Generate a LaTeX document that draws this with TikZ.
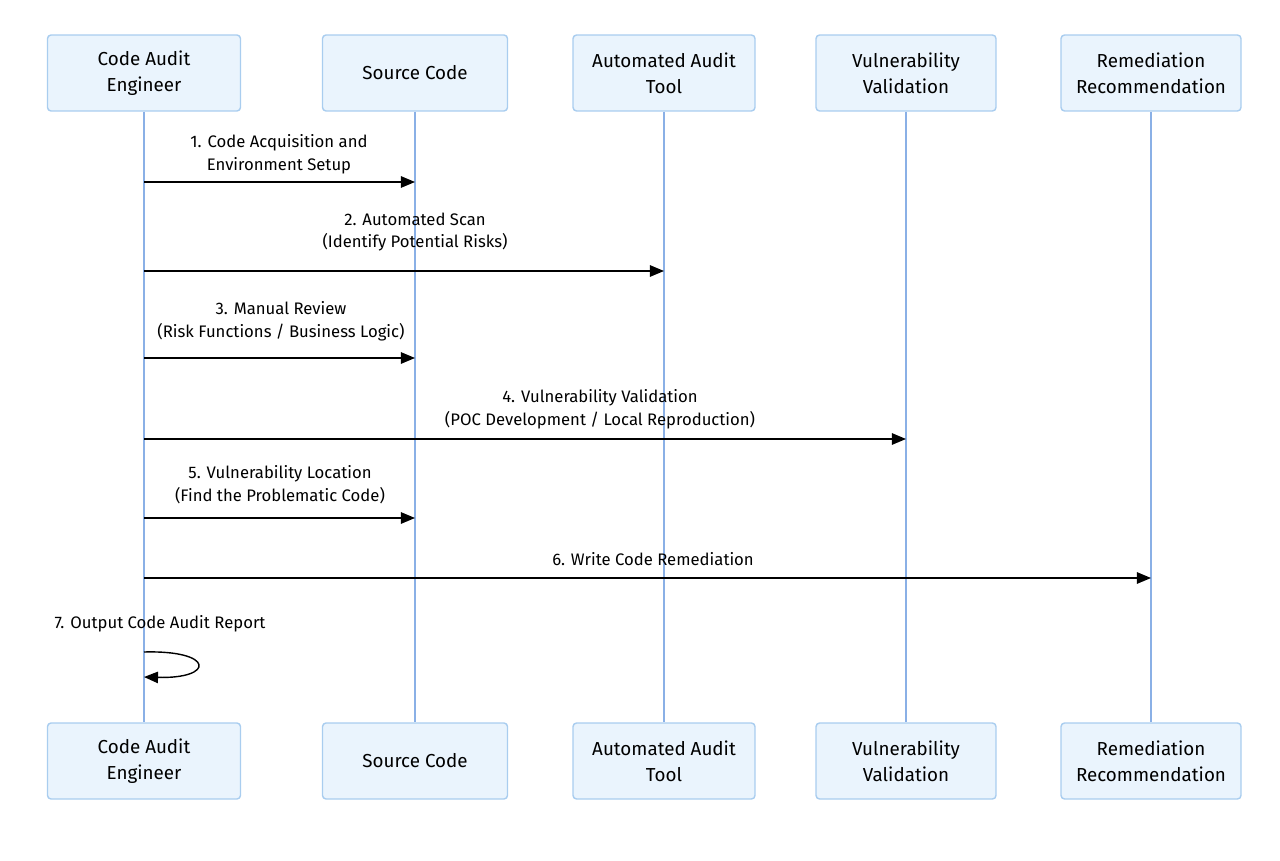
\documentclass[tikz,border=0pt]{standalone}
\usepackage{fontspec}
\setmainfont{Fira Sans}
\usetikzlibrary{positioning,arrows.meta}

\definecolor{boxfill}{HTML}{EAF4FD}
\definecolor{boxline}{HTML}{A9CDEF}
\definecolor{lifeline}{HTML}{8AB0E6}

\tikzset{
  actor/.style={draw=boxline, fill=boxfill, line width=0.8pt, rounded corners=2pt,
    minimum height=1.52cm, align=center, font=\fontsize{10.7}{14.6}\selectfont},
  life/.style={draw=lifeline, line width=0.9pt},
  msg/.style={draw=black, line width=0.8pt, -{Triangle[length=8pt,width=6.5pt]}},
  msglabel/.style={align=center, font=\fontsize{9.5}{13}\selectfont}
}

\begin{document}
\begin{tikzpicture}[x=0.02cm,y=-0.02cm]
  \useasboundingbox (0,0) rectangle (1280,861);

  % Actors (top)
  \node[actor, minimum width=3.86cm] (engT) at (144,73) {Code Audit\\Engineer};
  \node[actor, minimum width=3.70cm] (srcT) at (415,73) {Source Code};
  \node[actor, minimum width=3.64cm] (toolT) at (664,73) {Automated Audit\\Tool};
  \node[actor, minimum width=3.60cm] (valT) at (906,73) {Vulnerability\\Validation};
  \node[actor, minimum width=3.60cm] (remT) at (1151,73) {Remediation\\Recommendation};

  % Actors (bottom)
  \node[actor, minimum width=3.86cm] (engB) at (144,761) {Code Audit\\Engineer};
  \node[actor, minimum width=3.70cm] (srcB) at (415,761) {Source Code};
  \node[actor, minimum width=3.64cm] (toolB) at (664,761) {Automated Audit\\Tool};
  \node[actor, minimum width=3.60cm] (valB) at (906,761) {Vulnerability\\Validation};
  \node[actor, minimum width=3.60cm] (remB) at (1151,761) {Remediation\\Recommendation};

  % Lifelines
  \draw[life] (engT) -- (engB);
  \draw[life] (srcT) -- (srcB);
  \draw[life] (toolT) -- (toolB);
  \draw[life] (valT) -- (valB);
  \draw[life] (remT) -- (remB);

  % Message end points
  \coordinate (m1a) at (144,182); \coordinate (m1b) at (415,182);
  \coordinate (m2a) at (144,271); \coordinate (m2b) at (664,271);
  \coordinate (m3a) at (144,358); \coordinate (m3b) at (415,358);
  \coordinate (m4a) at (144,439); \coordinate (m4b) at (906,439);
  \coordinate (m5a) at (144,518); \coordinate (m5b) at (415,518);
  \coordinate (m6a) at (144,578); \coordinate (m6b) at (1151,578);
  \coordinate (m7a) at (144,652); \coordinate (m7b) at (144,677);

  % Messages
  \draw[msg] (m1a) -- (m1b);
  \node[msglabel] (l1) at (279,154) {1. Code Acquisition and\\Environment Setup};
  \draw[msg] (m2a) -- (m2b);
  \node[msglabel] (l2) at (415,232) {2. Automated Scan\\(Identify Potential Risks)};
  \draw[msg] (m3a) -- (m3b);
  \node[msglabel] (l3) at (281,321) {3. Manual Review\\(Risk Functions / Business Logic)};
  \draw[msg] (m4a) -- (m4b);
  \node[msglabel] (l4) at (600,409) {4. Vulnerability Validation\\(POC Development / Local Reproduction)};
  \draw[msg] (m5a) -- (m5b);
  \node[msglabel] (l5) at (280,485) {5. Vulnerability Location\\(Find the Problematic Code)};
  \draw[msg] (m6a) -- (m6b);
  \node[msglabel] (l6) at (653,559) {6. Write Code Remediation};
  \node[msglabel] (l7) at (160,624) {7. Output Code Audit Report};
  \draw[msg] (m7a) .. controls (215,650) and (215,679) .. (m7b);
\end{tikzpicture}
\end{document}
